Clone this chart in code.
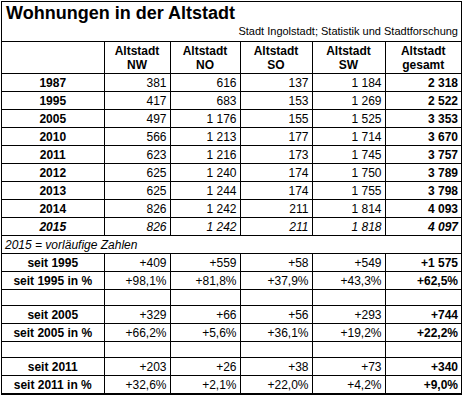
<!DOCTYPE html><html><head><meta charset="utf-8">
<script src="https://cdn.jsdelivr.net/npm/chart.js@4"></script>
<style>
body{margin:0;background:#fff;font-family:"Liberation Sans",Arial,sans-serif;}
#wrap{position:absolute;left:1px;top:1px;width:459px;border:1px solid #000;}
.title{font-weight:bold;font-size:18px;padding:1px 4px;height:21px}
.src{font-size:11px;text-align:right;padding-right:3px;height:16px;border-bottom:1px solid #000}
table{border-collapse:collapse;width:459px;table-layout:fixed;font-size:12px}
td{border:1px solid #000;padding:0 3px;height:17px;text-align:right;white-space:nowrap}
td.l{text-align:center;font-weight:bold}
tr.h td{font-weight:bold;text-align:center;height:31px;line-height:14px}
tr:first-child td{border-top:none}
td:first-child{border-left:none} td:last-child{border-right:none}
.b{font-weight:bold}.i{font-style:italic}
tr.note td{border-left:none;border-right:none;text-align:left;font-style:italic}
tr.sp td{height:15px}
</style></head><body>
<div id="wrap"><div class="title">Wohnungen in der Altstadt</div><div class="src">Stadt Ingolstadt; Statistik und Stadtforschung</div>
<table id="t"><colgroup><col style="width:102px"><col style="width:66px"><col style="width:70px"><col style="width:72px"><col style="width:73px"><col style="width:76px"></colgroup></table></div>
<script>
const headers=["","Altstadt<br>NW","Altstadt<br>NO","Altstadt<br>SO","Altstadt<br>SW","Altstadt<br>gesamt"];
const years=["1987","1995","2005","2010","2011","2012","2013","2014","2015"];
const nw=["381","417","497","566","623","625","625","826","826"];
const no=["616","683","1 176","1 213","1 216","1 240","1 244","1 242","1 242"];
const so=["137","153","155","177","173","174","174","211","211"];
const sw=["1 184","1 269","1 525","1 714","1 745","1 750","1 755","1 814","1 818"];
const total=["2 318","2 522","3 353","3 670","3 757","3 789","3 798","4 093","4 097"];
const note="2015 = vorläufige Zahlen";
const changeLabels=["seit 1995","seit 1995 in %","","seit 2005","seit 2005 in %","","seit 2011","seit 2011 in %"];
const chNW=["+409","+98,1%","","+329","+66,2%","","+203","+32,6%"];
const chNO=["+559","+81,8%","","+66","+5,6%","","+26","+2,1%"];
const chSO=["+58","+37,9%","","+56","+36,1%","","+38","+22,0%"];
const chSW=["+549","+43,3%","","+293","+19,2%","","+73","+4,2%"];
const chTot=["+1 575","+62,5%","","+744","+22,2%","","+340","+9,0%"];
let h='<tr class="h">'+headers.map(x=>'<td>'+x+'</td>').join('')+'</tr>';
years.forEach((y,i)=>{const it=i==years.length-1?' i':'';
h+=`<tr><td class="l${it}">${y}</td><td class="${it}">${nw[i]}</td><td class="${it}">${no[i]}</td><td class="${it}">${so[i]}</td><td class="${it}">${sw[i]}</td><td class="b${it}">${total[i]}</td></tr>`;});
h+=`<tr class="note"><td colspan="6">${note}</td></tr>`;
changeLabels.forEach((l,i)=>{const sp=l==""?' class="sp"':'';
h+=`<tr${sp}><td class="l">${l}</td><td>${chNW[i]}</td><td>${chNO[i]}</td><td>${chSO[i]}</td><td>${chSW[i]}</td><td class="b">${chTot[i]}</td></tr>`;});
document.getElementById('t').insertAdjacentHTML('beforeend',h);
</script></body></html>
